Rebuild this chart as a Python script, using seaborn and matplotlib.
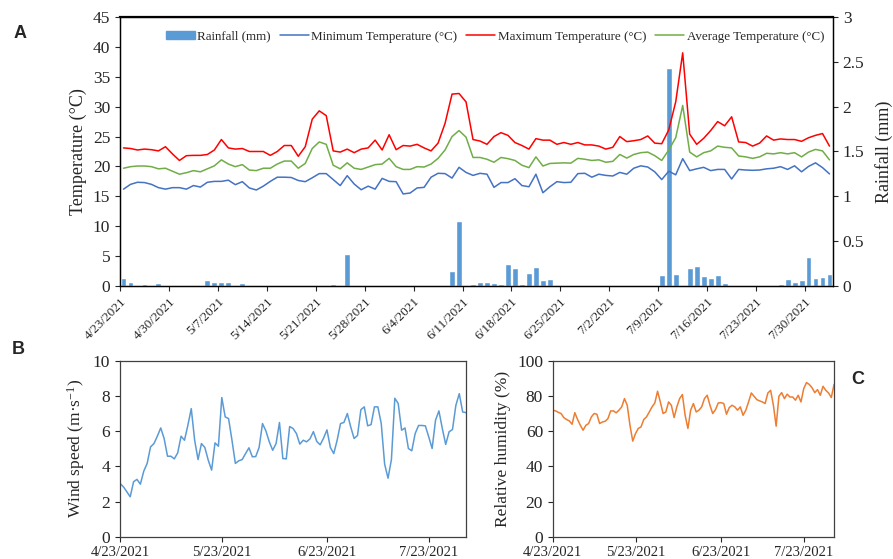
import numpy as np
import pandas as pd
import matplotlib
matplotlib.use('Agg')
import matplotlib.pyplot as plt
import seaborn as sns
from matplotlib.patches import Patch
from matplotlib.lines import Line2D

# daily weather, 4/23/2021 onwards
tmin = [16.2, 17.0, 17.35, 17.3, 17.0, 16.45, 16.2, 16.45, 16.45, 16.2,
        16.8, 16.55, 17.35, 17.5, 17.5, 17.7, 16.95, 17.45, 16.4, 16.06,
        16.7, 17.5, 18.2, 18.2, 18.15, 17.65, 17.45, 18.1, 18.8, 18.8,
        17.8, 16.8, 18.45, 17.06, 16.1, 16.7, 16.2, 18.0, 17.5, 17.45,
        15.4, 15.55, 16.4, 16.5, 18.2, 18.85, 18.8, 18.05, 19.85, 19.0,
        18.5, 18.85, 18.7, 16.5, 17.3, 17.3, 17.95, 16.8, 16.6, 18.7,
        15.6, 16.6, 17.45, 17.3, 17.35, 18.8, 18.85, 18.2, 18.7, 18.5,
        18.4, 19.0, 18.7, 19.7, 20.1, 19.9, 19.1, 17.8, 19.2, 18.6,
        21.3, 19.3, 19.6, 19.85, 19.3, 19.5, 19.5, 17.9, 19.5, 19.4,
        19.35, 19.4, 19.6, 19.7, 19.96, 19.5, 20.1, 19.1, 20.0, 20.6,
        19.8, 18.75]
tmax = [23.1, 23.0, 22.75, 22.9, 22.8, 22.6, 23.3, 22.1, 21.0, 21.8,
        21.85, 21.85, 22.0, 22.75, 24.5, 23.1, 22.9, 23.0, 22.5, 22.5,
        22.5, 21.85, 22.5, 23.5, 23.5, 21.7, 23.3, 27.9, 29.3, 28.5,
        22.6, 22.4, 22.9, 22.3, 22.9, 23.1, 24.4, 22.75, 25.3, 22.8,
        23.5, 23.4, 23.7, 23.1, 22.6, 23.9, 27.2, 32.1, 32.2, 30.8,
        24.5, 24.25, 23.7, 25.0, 25.65, 25.2, 24.0, 23.5, 22.9, 24.65,
        24.4, 24.4, 23.7, 24.0, 23.7, 24.0, 23.6, 23.6, 23.4, 22.9,
        23.2, 25.0, 24.15, 24.3, 24.5, 25.1, 23.9, 23.8, 26.1, 30.8,
        39.0, 25.4, 23.7, 24.7, 26.0, 27.5, 26.8, 28.3, 24.1, 24.0,
        23.4, 23.9, 25.1, 24.4, 24.6, 24.5, 24.5, 24.2, 24.8, 25.2,
        25.5, 23.4]
tavg = [19.7, 19.96, 20.07, 20.07, 19.96, 19.6, 19.7, 19.2, 18.7, 18.95,
        19.3, 19.1, 19.6, 20.1, 21.1, 20.4, 19.96, 20.3, 19.4, 19.3,
        19.7, 19.7, 20.4, 20.9, 20.9, 19.7, 20.5, 23.0, 24.1, 23.7,
        20.2, 19.6, 20.6, 19.7, 19.5, 19.9, 20.3, 20.4, 21.35, 19.96,
        19.5, 19.5, 19.96, 19.9, 20.4, 21.35, 22.75, 25.0, 26.0, 24.9,
        21.5, 21.5, 21.2, 20.7, 21.5, 21.3, 21.0, 20.2, 19.8, 21.6,
        20.07, 20.5, 20.55, 20.6, 20.55, 21.35, 21.2, 21.0, 21.1, 20.7,
        20.85, 22.0, 21.4, 22.0, 22.3, 22.4, 21.8, 21.0, 22.75, 24.8,
        30.2, 22.4, 21.6, 22.3, 22.6, 23.4, 23.2, 23.1, 21.75, 21.6,
        21.35, 21.6, 22.2, 22.1, 22.3, 22.1, 22.3, 21.6, 22.4, 22.85,
        22.6, 21.1]
rain = [0.09, 0.05, 0.015, 0.02, 0, 0.03, 0, 0.01, 0, 0,
        0.01, 0.01, 0.07, 0.05, 0.04, 0.04, 0.01, 0.03, 0, 0,
        0, 0, 0, 0, 0, 0, 0, 0, 0.01, 0.01,
        0.02, 0, 0.36, 0, 0, 0, 0, 0, 0.01, 0,
        0, 0.01, 0.01, 0, 0, 0, 0, 0.17, 0.72, 0,
        0.02, 0.05, 0.05, 0.03, 0.02, 0.245, 0.2, 0.02, 0.14, 0.21,
        0.07, 0.08, 0, 0, 0, 0, 0, 0, 0, 0,
        0, 0, 0, 0, 0, 0, 0, 0.12, 2.43, 0.13,
        0.01, 0.2, 0.22, 0.11, 0.09, 0.12, 0.03, 0, 0, 0,
        0, 0, 0, 0.015, 0.025, 0.08, 0.05, 0.065, 0.32, 0.085,
        0.095, 0.13]
wind = [3.03, 2.84, 2.56, 2.27, 3.13, 3.26, 2.99, 3.73, 4.17, 5.11,
        5.30, 5.72, 6.19, 5.59, 4.58, 4.58, 4.43, 4.77, 5.72, 5.49,
        6.34, 7.29, 5.49, 4.39, 5.30, 5.08, 4.36, 3.79, 5.34, 5.15,
        7.92, 6.82, 6.72, 5.49, 4.17, 4.32, 4.39, 4.73, 5.06, 4.55,
        4.56, 5.08, 6.44, 6.02, 5.40, 4.92, 5.30, 6.50, 4.45, 4.43,
        6.27, 6.16, 5.87, 5.27, 5.49, 5.40, 5.57, 5.98, 5.42, 5.23,
        5.61, 6.08, 5.08, 4.73, 5.49, 6.44, 6.50, 7.01, 6.25, 5.59,
        5.76, 7.23, 7.39, 6.31, 6.38, 7.39, 7.39, 6.44, 4.13, 3.33,
        4.39, 7.88, 7.58, 6.06, 6.19, 5.02, 4.89, 5.87, 6.33, 6.33,
        6.31, 5.68, 5.02, 6.63, 7.16, 6.16, 5.25, 5.97, 6.10, 7.48,
        8.14, 7.10, 7.06]
humidity = [72.0, 71.6, 70.8, 70.1, 67.8, 66.7, 65.9, 64.0, 70.6, 66.7,
            63.4, 60.6, 63.4, 64.4, 68.2, 70.1, 69.7, 64.4, 65.3, 65.7,
            67.2, 71.6, 71.6, 70.5, 72.0, 73.9, 78.6, 74.8, 63.4, 54.4,
            58.7, 61.6, 62.5, 66.7, 68.2, 71.0, 73.9, 76.1, 82.8, 76.7,
            70.1, 71.0, 76.7, 74.8, 67.8, 73.9, 78.6, 80.9, 69.1, 61.6,
            72.0, 75.8, 71.0, 72.0, 73.9, 78.6, 80.5, 74.8, 70.1, 72.3,
            76.1, 76.3, 75.8, 69.7, 73.5, 74.8, 73.9, 72.0, 73.9, 69.1,
            72.0, 76.7, 81.8, 79.9, 78.0, 77.3, 76.7, 75.8, 81.8, 83.3,
            74.8, 62.9, 79.9, 82.0, 78.6, 81.1, 79.5, 79.5, 77.7, 80.5,
            76.7, 84.3, 87.7, 86.7, 84.8, 82.0, 83.7, 80.5, 85.6, 83.3,
            81.8, 79.2, 86.7]

dates = pd.date_range('2021-04-23', periods=len(wind))
labels = [f'{d.month}/{d.day}/{d.year}' for d in dates]

sns.set_style('ticks')
plt.rcParams['font.family'] = ['Liberation Serif', 'DejaVu Serif']
plt.rcParams['mathtext.fontset'] = 'custom'
plt.rcParams['mathtext.rm'] = 'Liberation Serif'
plt.rcParams['mathtext.default'] = 'regular'

c_rain = '#5B9BD5'
c_min = '#4472C4'
c_max = '#FF0000'
c_avg = '#70AD47'

fig = plt.figure(figsize=(8.93, 5.59), dpi=100)

# panel A
ax = fig.add_axes([0.1344, 0.4884, 0.7984, 0.4812])
ax2 = ax.twinx()
x_top = np.arange(len(tmax)) + 0.5
sns.barplot(x=x_top, y=rain, native_scale=True, ax=ax2, color=c_rain,
            width=0.85, saturation=1, errorbar=None)
sns.lineplot(x=x_top, y=tmin, ax=ax, color=c_min, lw=1.1)
sns.lineplot(x=x_top, y=tmax, ax=ax, color=c_max, lw=1.1)
sns.lineplot(x=x_top, y=tavg, ax=ax, color=c_avg, lw=1.1)
ax.set_zorder(ax2.get_zorder() + 1)
ax.patch.set_visible(False)

ax.set_xlim(0, 102)
ax.set_ylim(0, 45)
ax.set_yticks(range(0, 46, 5))
ax2.set_ylim(0, 3)
ax2.set_yticks(np.arange(0, 3.01, 0.5))
ax2.yaxis.set_major_formatter(lambda v, p: f'{v:g}')
ax.set_xticks(range(0, 102, 7))
ax.set_xticklabels(labels[0:102:7], rotation=45, ha='right',
                   rotation_mode='anchor', fontsize=9.5)
ax.tick_params(axis='y', labelsize=12.5)
ax2.tick_params(axis='y', labelsize=12.5)
ax.set_xlabel('')
ax2.set_xlabel('')
ax.set_ylabel('Temperature (°C)', fontsize=13)
ax2.set_ylabel('Rainfall (mm)', fontsize=13, rotation=90, labelpad=8)
for a in (ax, ax2):
    for s in a.spines.values():
        s.set_color('black')
        s.set_linewidth(0.9)
ax2.spines['top'].set_linewidth(1.6)

handles = [Patch(color=c_rain), Line2D([], [], color=c_min, lw=1.1),
           Line2D([], [], color=c_max, lw=1.1), Line2D([], [], color=c_avg, lw=1.1)]
names = ['Rainfall (mm)', 'Minimum Temperature (°C)',
         'Maximum Temperature (°C)', 'Average Temperature (°C)']
ax.legend(handles, names, loc='center', bbox_to_anchor=(0.526, 0.927), ncol=4,
          frameon=False, fontsize=9.4, handlelength=2.2, columnspacing=0.7,
          handletextpad=0.2, handleheight=0.5)

# panels B and C
x_bot = np.arange(len(wind))
bot_ticks = [0, 30, 61, 91]

axB = fig.add_axes([0.1344, 0.0399, 0.3875, 0.3143])
sns.lineplot(x=x_bot, y=wind, ax=axB, color=c_rain, lw=1.1)
axB.set_ylim(0, 10)
axB.set_yticks(range(0, 11, 2))
axB.set_ylabel('Wind speed (m·s$^{-1}$)', fontsize=12.5)

axC = fig.add_axes([0.619, 0.0399, 0.315, 0.3143])
sns.lineplot(x=x_bot, y=humidity, ax=axC, color='#ED7D31', lw=1.1)
axC.set_ylim(0, 100)
axC.set_yticks(range(0, 101, 20))
axC.set_ylabel('Relative humidity (%)', fontsize=12.5)

for a in (axB, axC):
    a.set_xlim(0, 102)
    a.set_xticks(bot_ticks)
    a.set_xticklabels([labels[i] for i in bot_ticks], fontsize=10.5)
    a.tick_params(axis='y', labelsize=12.5)
    for s in a.spines.values():
        s.set_color('#404040')
        s.set_linewidth(0.9)

for txt, px, py in [('A', 20, 33), ('B', 18, 350), ('C', 858, 379)]:
    fig.text(px / 893, 1 - py / 559, txt, fontsize=13, weight='bold',
             family='Liberation Sans', ha='center', va='center')

fig.savefig('out.png', dpi=100)
